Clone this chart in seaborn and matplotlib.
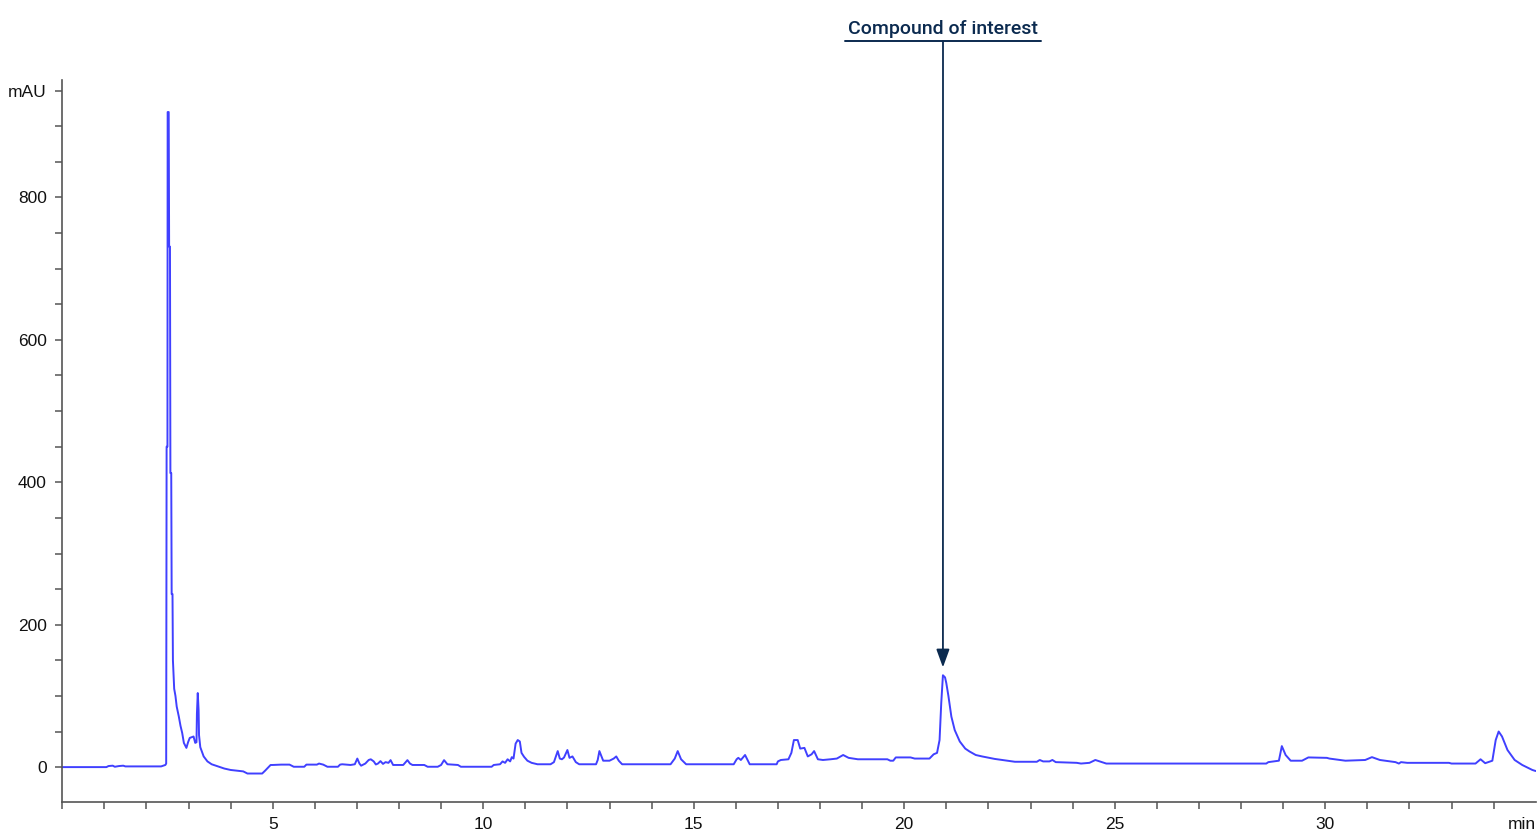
import seaborn as sns
import matplotlib.pyplot as plt
from matplotlib.lines import Line2D
from matplotlib import font_manager
import numpy as np

# Chromatogram look: plain ticks, no grid
sns.set_style("ticks")
plt.rcParams['font.family'] = ['Liberation Sans', 'DejaVu Sans']

# Trace (retention time in min, absorbance in mAU)
time_min = [
    0.0, 1.05, 1.1, 1.2, 1.25, 1.35, 1.45, 1.5, 2.35, 2.45,
    2.47, 2.48, 2.50, 2.505, 2.53, 2.54, 2.56, 2.57, 2.59, 2.60,
    2.62, 2.63, 2.66, 2.69, 2.72, 2.77, 2.81, 2.85, 2.89, 2.95,
    2.99, 3.03, 3.12, 3.16, 3.19, 3.20, 3.22, 3.24, 3.25, 3.28,
    3.36, 3.45, 3.55, 3.75, 3.85, 4.0, 4.3, 4.4, 4.75, 4.82,
    4.95, 5.0, 5.2, 5.4, 5.5, 5.75, 5.8, 6.05, 6.1, 6.2,
    6.3, 6.55, 6.6, 6.65, 6.85, 6.95, 7.01, 7.06, 7.1, 7.2,
    7.28, 7.33, 7.40, 7.45, 7.50, 7.56, 7.62, 7.68, 7.75, 7.80,
    7.86, 8.1, 8.2, 8.26, 8.32, 8.6, 8.68, 8.92, 9.0, 9.07,
    9.15, 9.4, 9.47, 10.2, 10.25, 10.4, 10.46, 10.52, 10.58, 10.64,
    10.68, 10.72, 10.77, 10.82, 10.87, 10.91, 10.97, 11.05, 11.15, 11.29,
    11.6, 11.68, 11.77, 11.82, 11.87, 11.92, 12.0, 12.05, 12.12, 12.2,
    12.28, 12.68, 12.72, 12.76, 12.85, 13.0, 13.1, 13.16, 13.22, 13.3,
    14.45, 14.55, 14.62, 14.7, 14.82, 15.95, 16.02, 16.06, 16.12, 16.22,
    16.28, 16.33, 16.97, 17.0, 17.07, 17.25, 17.32, 17.38, 17.47, 17.53,
    17.63, 17.71, 17.8, 17.86, 17.95, 18.07, 18.25, 18.4, 18.55, 18.68,
    18.9, 19.6, 19.67, 19.74, 19.8, 20.15, 20.25, 20.6, 20.7, 20.78,
    20.84, 20.88, 20.92, 20.97, 21.0, 21.05, 21.12, 21.2, 21.32, 21.45,
    21.55, 21.7, 21.85, 22.15, 22.5, 22.63, 23.15, 23.22, 23.3, 23.45,
    23.52, 23.6, 24.1, 24.2, 24.4, 24.54, 24.7, 24.8, 28.6, 28.65,
    28.9, 28.97, 29.06, 29.18, 29.45, 29.6, 30.04, 30.1, 30.48, 30.95,
    31.11, 31.3, 31.67, 31.75, 31.8, 31.95, 32.94, 33.0, 33.57, 33.69,
    33.8, 33.97, 34.05, 34.12, 34.2, 34.33, 34.5, 34.68, 34.92, 35.0,
]
signal_mau = [
    0, 0, 1.5, 2, 0.5, 1.5, 2, 1, 1, 3,
    5, 450, 450, 920, 920, 731, 731, 413, 413, 243,
    243, 150, 110, 100, 85, 71, 58, 48, 34, 27,
    35, 41, 43, 34, 35, 75, 104, 80, 45, 28,
    15, 8, 4, 0, -2, -4, -6, -9, -9, -5,
    3, 3, 3.5, 3.5, 0.5, 0.5, 3.5, 3.5, 5, 3.5,
    0.5, 0.5, 3.5, 4, 3, 4, 12, 5, 2, 5,
    10, 11, 8, 3.7, 5, 8.4, 4.5, 7, 6, 9.8,
    3, 3, 9.8, 5, 3, 3, 0.5, 0.5, 3, 9.8,
    4, 3, 0.5, 0.5, 3, 4, 8, 6, 11, 8,
    14, 12, 33, 38, 36, 20, 14.5, 9, 6, 4,
    4, 7, 22.5, 12, 11, 13.5, 24, 13, 15, 7,
    4, 4, 10, 22.5, 9, 9, 12, 15, 9, 4,
    4, 12, 22.5, 11, 4, 4, 11, 13, 10, 17,
    10, 4, 4, 8, 10, 11, 20, 38, 38, 26,
    27, 15, 18, 22.5, 11, 10, 11, 12, 17, 13,
    11, 11, 9, 9, 13.6, 13.6, 12, 12, 18, 20,
    38, 90, 129, 126, 118, 100, 71, 52, 36, 26,
    22, 17, 15, 11.5, 8.5, 7.5, 7.5, 10, 8, 8,
    10, 7, 6, 5, 6, 10, 7, 5, 5, 7,
    9, 29.5, 17, 9, 9, 13.6, 13, 12, 9, 10,
    14, 10, 7, 5, 7, 6, 6, 5, 5, 11,
    5.5, 9, 38, 50, 43, 24, 10, 3, -4, -5.5,
]

y_major = [0, 200, 400, 600, 800, 950]
y_major_labels = ['0', '200', '400', '600', '800', 'mAU']
x_major = [5, 10, 15, 20, 25, 30]
x_major_labels = ['5', '10', '15', '20', '25', '30']

peak_time = 20.92
peak_mark = 140
peak_label = "Compound of interest"

navy = '#0b2a4f'
axis_grey = '#555555'

# narrow face for the call-out if present, otherwise Roboto
installed = {f.name for f in font_manager.fontManager.ttflist}
if 'Liberation Sans Narrow' in installed:
    label_font = dict(family='Liberation Sans Narrow', fontsize=17.5, fontweight='bold')
else:
    label_font = dict(family='Roboto', fontsize=14, fontweight='medium')

W, H = 1538, 834
fig = plt.figure(figsize=(W / 100, H / 100), dpi=100)
ax = fig.add_axes([62.2 / W, 1 - 802 / H, (1535.7 - 62.2) / W, (802 - 80) / H])

sns.lineplot(x=time_min, y=signal_mau, ax=ax, color='#4040ff', linewidth=1.4,
             estimator=None, sort=False)

ax.set_xlim(0, 35)
ax.set_ylim(-49, 965)
ax.set_xlabel('')
ax.set_ylabel('')

ax.set_xticks(x_major)
ax.set_xticklabels(x_major_labels)
ax.set_xticks(np.arange(0, 35, 1), minor=True)
ax.set_yticks(y_major)
ax.set_yticklabels(y_major_labels)
ax.set_yticks(np.arange(50, 951, 50), minor=True)

for which in ('major', 'minor'):
    ax.tick_params(axis='both', which=which, direction='out', length=5,
                   width=1.1, color=axis_grey)
ax.tick_params(axis='x', which='major', pad=6, labelsize=12.5, labelcolor='#111111')
ax.tick_params(axis='y', which='major', pad=6, labelsize=12.5, labelcolor='#111111')

for side in ('top', 'right'):
    ax.spines[side].set_visible(False)
for side in ('left', 'bottom'):
    ax.spines[side].set_color(axis_grey)
    ax.spines[side].set_linewidth(1.2)

# time unit at the right end of the x axis
ax.annotate('min', xy=(1, 0), xycoords='axes fraction', xytext=(0, -11),
            textcoords='offset points', ha='right', va='top', fontsize=12.5,
            color='#111111', annotation_clip=False)

# Call-out for the compound of interest
fig.text(943 / W, 1 - 34 / H, peak_label, ha='center', va='baseline',
         color=navy, **label_font)
fig.add_artist(Line2D([845 / W, 1041 / W], [1 - 41 / H, 1 - 41 / H],
                      transform=fig.transFigure, color=navy, linewidth=1.4))
ax.annotate('', xy=(peak_time, peak_mark), xycoords='data',
            xytext=(943 / W, 1 - 41 / H), textcoords='figure fraction',
            arrowprops=dict(arrowstyle='-|>,head_length=1.1,head_width=0.4',
                            color=navy, lw=1.3, shrinkA=0, shrinkB=0),
            annotation_clip=False)

fig.savefig("out.png", dpi=100)
